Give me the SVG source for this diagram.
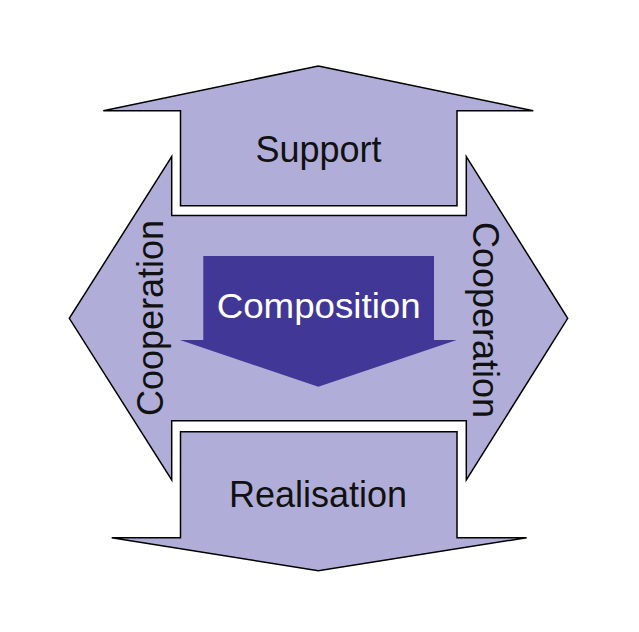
<svg xmlns="http://www.w3.org/2000/svg" width="639" height="632" viewBox="0 0 639 632">
<style>
.shape{fill:#b0aed9;stroke:#000;stroke-width:1.5;stroke-linejoin:miter}
.lbl{font-family:"Liberation Sans",Arial,sans-serif;font-size:36px;fill:#111;text-anchor:middle}
.wlbl{font-family:"Liberation Sans",Arial,sans-serif;font-size:35px;fill:#fff;text-anchor:middle}
</style>
<rect width="639" height="632" fill="#fff"/>
<g id="cooperation">
<polygon class="shape" points="171.7,156.7 171.7,215.5 466.3,215.5 466.3,156.7 567.7,318.3 466.3,480 466.3,420.7 171.7,420.7 171.7,480 69.3,318.3"/>
<text class="lbl" transform="translate(162.5,318) rotate(-90)">Cooperation</text>
<text class="lbl" transform="translate(472.5,320) rotate(90)">Cooperation</text>
</g>
<g id="support">
<polygon class="shape" points="318.3,66 533.3,110.7 457,110.7 457,205.7 180.5,205.7 180.5,110.7 103.3,110.7"/>
<text class="lbl" x="318.5" y="161.7">Support</text>
</g>
<g id="realisation">
<polygon class="shape" points="180.5,431.7 457,431.7 457,537.7 526.7,537.7 318.3,570.7 111.7,537.7 180.5,537.7"/>
<text class="lbl" x="318" y="506.7">Realisation</text>
</g>
<g id="composition">
<polygon fill="#413797" points="203.3,256 434,256 434,340 456.7,340 318.3,386.7 180,340 203.3,340"/>
<text class="wlbl" x="318.7" y="317.7" textLength="204" lengthAdjust="spacingAndGlyphs">Composition</text>
</g>
<g id="connectors"/>
</svg>
